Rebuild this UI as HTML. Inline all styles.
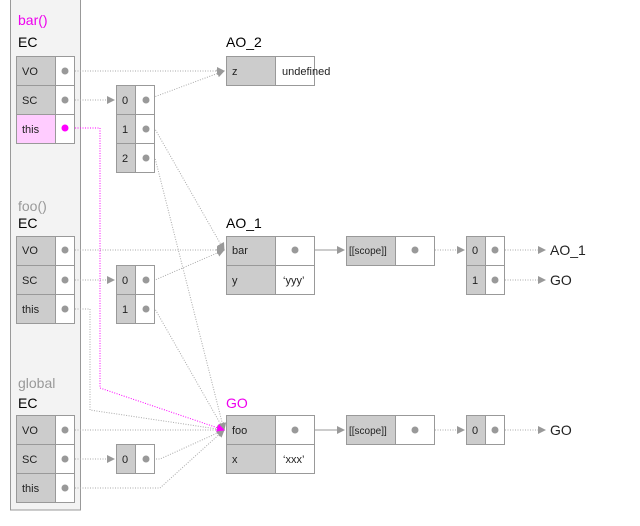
<!DOCTYPE html>
<html><head><meta charset="utf-8"><style>
body{margin:0;background:#fff;width:640px;height:521px;overflow:hidden}
text{font-family:"Liberation Sans",sans-serif}
</style></head><body>
<svg width="640" height="521" xmlns="http://www.w3.org/2000/svg">
<defs>
<marker id="a" markerWidth="8" markerHeight="8" refX="7" refY="4" orient="auto" markerUnits="userSpaceOnUse"><path d="M0,0 L8,4 L0,8z" fill="#999"/></marker>
<marker id="m" markerWidth="8" markerHeight="8" refX="7" refY="4" orient="auto" markerUnits="userSpaceOnUse"><path d="M0,0 L8,4 L0,8z" fill="#f0f"/></marker>
</defs>
<rect x="10.5" y="-2" width="70" height="512" fill="#f3f3f3" stroke="#999"/>
<g font-size="13">
<text x="18" y="25" fill="#e0e" font-size="14">bar()</text><text x="18" y="47" font-size="14">EC</text>
<text x="18" y="211" fill="#999" font-size="14">foo()</text><text x="18" y="228" font-size="14">EC</text>
<text x="18" y="388" fill="#999" font-size="14">global</text><text x="18" y="408" font-size="14">EC</text>
<text x="226" y="47" font-size="14">AO_2</text>
<text x="226" y="228" font-size="14">AO_1</text>
<text x="226" y="408" font-size="14" fill="#e0e">GO</text>
</g>
<g stroke="#aaa" fill="none" stroke-dasharray="1,1.5">
<path d="M65,71H224" marker-end="url(#a)"/>
<path d="M65,100H114" marker-end="url(#a)"/>
<path d="M146,100L224,71" marker-end="url(#a)"/>
<path d="M146,129H155L224,250" marker-end="url(#a)"/>
<path d="M146,158H155L224,430" marker-end="url(#a)"/>
<path d="M65,250H224" marker-end="url(#a)"/>
<path d="M65,280H114" marker-end="url(#a)"/>
<path d="M146,280H155L224,250" marker-end="url(#a)"/>
<path d="M146,309H155L224,430" marker-end="url(#a)"/>
<path d="M65,309H90V410L224,430" marker-end="url(#a)"/>
<path d="M65,430H224" marker-end="url(#a)"/>
<path d="M65,459H114" marker-end="url(#a)"/>
<path d="M146,459H160L224,430" marker-end="url(#a)"/>
<path d="M65,488H160L224,430" marker-end="url(#a)"/>
<path d="M415,250H464" marker-end="url(#a)"/>
<path d="M495,250H545" marker-end="url(#a)"/>
<path d="M495,280H545" marker-end="url(#a)"/>
<path d="M415,430H464" marker-end="url(#a)"/>
<path d="M495,430H545" marker-end="url(#a)"/>
</g>
<path d="M65,128H100V388L224,430" stroke="#f0f" fill="none" stroke-dasharray="1,1.5" marker-end="url(#m)"/>
<path d="M295,250H344" stroke="#999" marker-end="url(#a)"/>
<path d="M295,430H344" stroke="#999" marker-end="url(#a)"/>
<g stroke="#999" font-size="11">
<g fill="#ccc"><rect x="16.5" y="56.5" width="39" height="29"/><rect x="16.5" y="85.5" width="39" height="29"/></g>
<rect x="16.5" y="114.5" width="39" height="29" fill="#fcf"/>
<g fill="#fff"><rect x="55.5" y="56.5" width="19" height="29"/><rect x="55.5" y="85.5" width="19" height="29"/><rect x="55.5" y="114.5" width="19" height="29"/></g>
<g fill="#ccc"><rect x="16.5" y="236.5" width="39" height="29"/><rect x="16.5" y="265.5" width="39" height="29"/><rect x="16.5" y="294.5" width="39" height="29"/>
<rect x="16.5" y="415.5" width="39" height="29"/><rect x="16.5" y="444.5" width="39" height="29"/><rect x="16.5" y="473.5" width="39" height="29"/></g>
<g fill="#fff"><rect x="55.5" y="236.5" width="19" height="29"/><rect x="55.5" y="265.5" width="19" height="29"/><rect x="55.5" y="294.5" width="19" height="29"/>
<rect x="55.5" y="415.5" width="19" height="29"/><rect x="55.5" y="444.5" width="19" height="29"/><rect x="55.5" y="473.5" width="19" height="29"/></g>
<g fill="#ccc"><rect x="116.5" y="85.5" width="19" height="29"/><rect x="116.5" y="114.5" width="19" height="29"/><rect x="116.5" y="143.5" width="19" height="29"/>
<rect x="116.5" y="265.5" width="19" height="29"/><rect x="116.5" y="294.5" width="19" height="29"/><rect x="116.5" y="444.5" width="19" height="29"/>
<rect x="466.5" y="236.5" width="19" height="29"/><rect x="466.5" y="265.5" width="19" height="29"/><rect x="466.5" y="415.5" width="19" height="29"/></g>
<g fill="#fff"><rect x="135.5" y="85.5" width="19" height="29"/><rect x="135.5" y="114.5" width="19" height="29"/><rect x="135.5" y="143.5" width="19" height="29"/>
<rect x="135.5" y="265.5" width="19" height="29"/><rect x="135.5" y="294.5" width="19" height="29"/><rect x="135.5" y="444.5" width="19" height="29"/>
<rect x="485.5" y="236.5" width="19" height="29"/><rect x="485.5" y="265.5" width="19" height="29"/><rect x="485.5" y="415.5" width="19" height="29"/></g>
<g fill="#ccc"><rect x="226.5" y="56.5" width="49" height="29"/><rect x="226.5" y="236.5" width="49" height="29"/><rect x="226.5" y="265.5" width="49" height="29"/>
<rect x="226.5" y="415.5" width="49" height="29"/><rect x="226.5" y="444.5" width="49" height="29"/>
<rect x="346.5" y="236.5" width="49" height="29"/><rect x="346.5" y="415.5" width="49" height="29"/></g>
<g fill="#fff"><rect x="275.5" y="56.5" width="39" height="29"/><rect x="275.5" y="236.5" width="39" height="29"/><rect x="275.5" y="265.5" width="39" height="29"/>
<rect x="275.5" y="415.5" width="39" height="29"/><rect x="275.5" y="444.5" width="39" height="29"/>
<rect x="395.5" y="236.5" width="39" height="29"/><rect x="395.5" y="415.5" width="39" height="29"/></g>
</g>
<g fill="#999">
<circle cx="65" cy="71" r="3.5"/><circle cx="65" cy="100" r="3.5"/>
<circle cx="65" cy="250" r="3.5"/><circle cx="65" cy="280" r="3.5"/><circle cx="65" cy="309" r="3.5"/>
<circle cx="65" cy="430" r="3.5"/><circle cx="65" cy="459" r="3.5"/><circle cx="65" cy="488" r="3.5"/>
<circle cx="146" cy="100" r="3.5"/><circle cx="146" cy="129" r="3.5"/><circle cx="146" cy="158" r="3.5"/>
<circle cx="146" cy="280" r="3.5"/><circle cx="146" cy="309" r="3.5"/><circle cx="146" cy="459" r="3.5"/>
<circle cx="295" cy="250" r="3.5"/><circle cx="295" cy="430" r="3.5"/>
<circle cx="415" cy="250" r="3.5"/><circle cx="415" cy="430" r="3.5"/>
<circle cx="495" cy="250" r="3.5"/><circle cx="495" cy="280" r="3.5"/><circle cx="495" cy="430" r="3.5"/>
</g>
<circle cx="65" cy="128" r="3.5" fill="#f0f"/>
<g font-size="11" fill="#222">
<text x="22" y="75">VO</text><text x="22" y="104">SC</text><text x="22" y="133">this</text>
<text x="22" y="254">VO</text><text x="22" y="284">SC</text><text x="22" y="313">this</text>
<text x="22" y="434">VO</text><text x="22" y="463">SC</text><text x="22" y="492">this</text>
<text x="122" y="104">0</text><text x="122" y="133">1</text><text x="122" y="162">2</text>
<text x="122" y="284">0</text><text x="122" y="313">1</text><text x="122" y="463">0</text>
<text x="472" y="254">0</text><text x="472" y="284">1</text><text x="472" y="434">0</text>
<text x="232" y="75">z</text><text x="282" y="75">undefined</text>
<text x="232" y="254">bar</text><text x="232" y="284">y</text><text x="283" y="284">‘yyy’</text>
<text x="232" y="434">foo</text><text x="232" y="463">x</text><text x="283" y="463">‘xxx’</text>
<text x="349" y="254" font-size="10">[[scope]]</text><text x="349" y="434" font-size="10">[[scope]]</text>
</g>
<g font-size="14" fill="#222"><text x="550" y="255">AO_1</text><text x="550" y="285">GO</text><text x="550" y="435">GO</text></g>
</svg>
</body></html>
